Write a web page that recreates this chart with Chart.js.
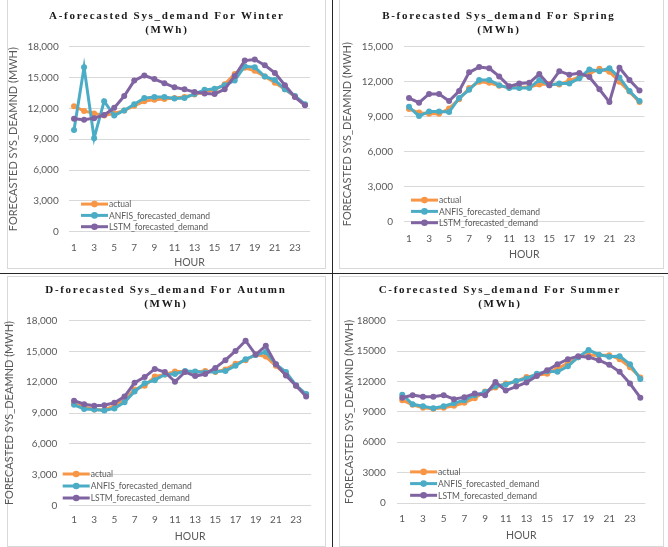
<!DOCTYPE html>
<html>
<head>
<meta charset="utf-8">
<script src="https://cdn.jsdelivr.net/npm/chart.js@4.4.1/dist/chart.umd.min.js"></script>
<style>
  html, body { margin: 0; padding: 0; background: #fff; }
  #page { position: relative; width: 668px; height: 547px; overflow: hidden; }
  .box { position: absolute; border: 1px solid #d9d9d9; box-sizing: border-box; }
  .rule { position: absolute; background: #262626; }
  canvas { position: absolute; }
</style>
</head>
<body>
<div id="page">
  <div class="box" style="left:7px;top:-1px;width:319px;height:270px"></div>
  <div class="box" style="left:339px;top:-1px;width:325px;height:270px"></div>
  <div class="box" style="left:7px;top:276px;width:319px;height:271px"></div>
  <div class="box" style="left:339px;top:276px;width:325px;height:271px"></div>
  <div class="rule" style="left:0;top:273px;width:668px;height:1px"></div>
  <div class="rule" style="left:332px;top:0;width:1px;height:547px"></div>

  <canvas id="winter" width="332" height="273" style="left:0;top:0"></canvas>
  <canvas id="spring" width="335" height="273" style="left:333px;top:0"></canvas>
  <canvas id="autumn" width="332" height="273" style="left:0;top:274px"></canvas>
  <canvas id="summer" width="335" height="273" style="left:333px;top:274px"></canvas>
</div>
<script>
// hours on the x axis
const hours = ['1','2','3','4','5','6','7','8','9','10','11','12',
               '13','14','15','16','17','18','19','20','21','22','23','24'];

// A - winter
const winterActual = [12200, 11750, 11500, 11300, 11500, 11800, 12250, 12700, 12850, 12900, 13000, 13100,
                      13350, 13600, 13800, 14350, 15350, 15950, 15650, 15100, 14500, 13850, 13150, 12350];
const winterAnfis  = [9900, 16000, 9100, 12700, 11300, 11800, 12400, 13000, 13100, 13100, 12950, 13000,
                      13400, 13800, 13900, 14250, 14700, 16100, 16000, 15100, 14750, 13850, 13200, 12400];
const winterLstm   = [11000, 10900, 11050, 11350, 12050, 13200, 14700, 15200, 14850, 14450, 14050, 13850,
                      13600, 13450, 13400, 13850, 15150, 16650, 16750, 16200, 15450, 14250, 13100, 12300];

// B - spring
const springActual = [9650, 9350, 9250, 9250, 9700, 10500, 11450, 12000, 11900, 11650, 11500, 11500,
                      11550, 11750, 11800, 11750, 12100, 12400, 12700, 13100, 12850, 12000, 11150, 10250];
const springAnfis  = [9850, 9050, 9450, 9450, 9400, 10600, 11300, 12150, 12150, 11700, 11450, 11450,
                      11450, 12150, 11700, 11850, 11850, 12300, 13050, 12900, 13150, 12350, 11200, 10350];
const springLstm   = [10600, 10200, 10950, 10950, 10350, 11200, 12800, 13250, 13150, 12450, 11600, 11850,
                      11900, 12650, 11700, 12900, 12600, 12750, 12400, 11350, 10250, 13200, 12150, 11250];

// D - autumn
const autumnActual = [9950, 9600, 9350, 9300, 9700, 10250, 11300, 11650, 12550, 12750, 13050, 13050,
                      13000, 13100, 13000, 13250, 13800, 14150, 14700, 14500, 13600, 12750, 11650, 10800];
const autumnAnfis  = [9800, 9400, 9350, 9250, 9450, 10050, 11100, 11900, 12200, 12750, 12800, 13100,
                      13050, 12950, 13050, 13100, 13600, 14250, 14650, 14950, 13750, 13000, 11700, 10850];
const autumnLstm   = [10200, 9850, 9700, 9750, 10000, 10600, 11950, 12500, 13300, 13000, 12050, 13000,
                      12600, 12800, 13400, 14150, 15050, 16050, 14700, 15550, 13750, 12650, 11650, 10600];

// C - summer
const summerActual = [10150, 9700, 9400, 9300, 9400, 9600, 9900, 10350, 11000, 11400, 11800, 12000,
                      12450, 12600, 12750, 13300, 13800, 14400, 14600, 14600, 14600, 14200, 13400, 12400];
const summerAnfis  = [10700, 9750, 9550, 9350, 9550, 9850, 10150, 10650, 10950, 11550, 11700, 12050,
                      12300, 12750, 13000, 12950, 13500, 14400, 15100, 14650, 14450, 14500, 13700, 12250];
const summerLstm   = [10400, 10650, 10500, 10500, 10650, 10250, 10450, 10800, 10650, 11950, 11100, 11500,
                      11900, 12550, 13100, 13700, 14200, 14500, 14400, 14100, 13650, 12950, 11800, 10400];

const seriesNames = ['actual', 'ANFIS_forecasted_demand', 'LSTM_forecasted_demand'];
const seriesColors = ['#f79646', '#4bacc6', '#8064a2'];

Chart.defaults.font.family = 'Lato';
Chart.defaults.color = '#595959';

// spaced serif title, two lines
const titlePlugin = {
  id: 'panelTitle',
  afterDraw(chart, args, opts) {
    const ctx = chart.ctx;
    ctx.save();
    ctx.font = 'bold 11px "Liberation Serif"';
    ctx.letterSpacing = opts.spacing + 'px';
    ctx.fillStyle = '#1a1a1a';
    ctx.textBaseline = 'middle';
    ctx.textAlign = 'left';
    opts.lines.forEach((t, i) => {
      const w = ctx.measureText(t).width - opts.spacing;
      ctx.fillText(t, opts.cx - w / 2, opts.y[i]);
    });
    ctx.restore();
  }
};

// excel style legend sitting inside the plot
const legendPlugin = {
  id: 'panelLegend',
  afterDatasetsDraw(chart, args, opts) {
    const ctx = chart.ctx;
    const area = chart.chartArea;
    const x0 = area.left + opts.x;
    ctx.save();
    ctx.font = '8.5px Lato';
    ctx.textBaseline = 'middle';
    ctx.textAlign = 'left';
    chart.data.datasets.forEach((ds, i) => {
      const y = area.bottom + opts.last - (2 - i) * opts.gap;
      ctx.strokeStyle = ds.borderColor;
      ctx.lineWidth = 3;
      ctx.beginPath();
      ctx.moveTo(x0, y);
      ctx.lineTo(x0 + 27, y);
      ctx.stroke();
      ctx.fillStyle = ds.borderColor;
      ctx.beginPath();
      ctx.arc(x0 + 13.5, y, 3.3, 0, Math.PI * 2);
      ctx.fill();
      ctx.fillStyle = '#595959';
      ctx.fillText(ds.label, x0 + 28, y + 0.5);
    });
    ctx.restore();
  }
};

function series(i, values) {
  return {
    label: seriesNames[i],
    data: values,
    borderColor: seriesColors[i],
    backgroundColor: seriesColors[i],
    pointBackgroundColor: seriesColors[i],
    pointBorderColor: seriesColors[i],
    borderWidth: 3,
    pointRadius: 3,
    pointBorderWidth: 0,
    tension: 0,
    order: 3 - i
  };
}

function buildChart(id, p) {
  return new Chart(document.getElementById(id), {
    type: 'line',
    data: {
      labels: hours,
      datasets: [series(0, p.actual), series(1, p.anfis), series(2, p.lstm)]
    },
    options: {
      responsive: false,
      animation: false,
      events: [],
      layout: { padding: { top: p.top, right: p.right, bottom: p.bottom, left: 0 } },
      plugins: {
        legend: { display: false },
        tooltip: { enabled: false },
        panelTitle: { lines: [p.title, '(MWh)'], cx: p.titleCx, y: p.titleY, spacing: 1.7 },
        panelLegend: p.legend
      },
      scales: {
        x: {
          offset: true,
          grid: { display: false, drawTicks: false },
          border: { display: false },
          ticks: {
            autoSkip: false,
            maxRotation: 0,
            padding: p.xTickPad,
            font: { size: 10 },
            callback: (v, i) => (i % 2 === 0 ? hours[i] : '')
          },
          title: { display: true, text: 'HOUR', font: { size: 10.5, lineHeight: 1 }, padding: 0 },
          afterFit(s) { s.height = p.xHeight; }
        },
        y: {
          min: 0,
          max: p.max,
          ticks: {
            stepSize: 3000,
            padding: p.yTickPad,
            font: { size: 10 },
            callback: v => (p.comma ? v.toLocaleString('en-US') : String(v))
          },
          grid: { color: '#d9d9d9', drawTicks: false },
          border: { display: false },
          title: {
            display: true,
            text: 'FORECASTED SYS_DEAMND (MWH)',
            font: { size: 11, lineHeight: 1 },
            padding: { top: p.yTitlePad, bottom: 0 }
          },
          afterFit(s) { s.width = p.yWidth; }
        }
      }
    },
    plugins: [titlePlugin, legendPlugin]
  });
}

buildChart('winter', {
  actual: winterActual, anfis: winterAnfis, lstm: winterLstm,
  title: 'A-forecasted Sys_demand For Winter', titleCx: 166, titleY: [16, 30],
  max: 18000, comma: true,
  top: 46.7, right: 22, bottom: 5, xHeight: 36.3, yWidth: 69,
  xTickPad: 9.6, yTickPad: 10.3, yTitlePad: 8,
  legend: { x: 12, last: -5, gap: 11.3 }
});

buildChart('spring', {
  actual: springActual, anfis: springAnfis, lstm: springLstm,
  title: 'B-forecasted Sys_demand For Spring', titleCx: 165, titleY: [16, 30],
  max: 15000, comma: true,
  top: 46.7, right: 23.5, bottom: 13, xHeight: 38.3, yWidth: 71,
  xTickPad: 11.3, yTickPad: 11, yTitlePad: 8.8,
  legend: { x: 7, last: 1, gap: 11.3 }
});

buildChart('autumn', {
  actual: autumnActual, anfis: autumnAnfis, lstm: autumnLstm,
  title: 'D-forecasted Sys_demand For Autumn', titleCx: 165, titleY: [16, 30.3],
  max: 18000, comma: true,
  top: 46.7, right: 20.8, bottom: 5.3, xHeight: 36.4, yWidth: 69,
  xTickPad: 8, yTickPad: 11.7, yTitlePad: 4,
  legend: { x: -6.3, last: -7.3, gap: 12 }
});

buildChart('summer', {
  actual: summerActual, anfis: summerAnfis, lstm: summerLstm,
  title: 'C-forecasted Sys_demand For Summer', titleCx: 166, titleY: [16, 30],
  max: 18000, comma: false,
  top: 46.7, right: 22.5, bottom: 6.3, xHeight: 37.7, yWidth: 64.1,
  xTickPad: 9.3, yTickPad: 11.4, yTitlePad: 10.5,
  legend: { x: 13, last: -7.7, gap: 11.7 }
});
</script>
</body>
</html>
